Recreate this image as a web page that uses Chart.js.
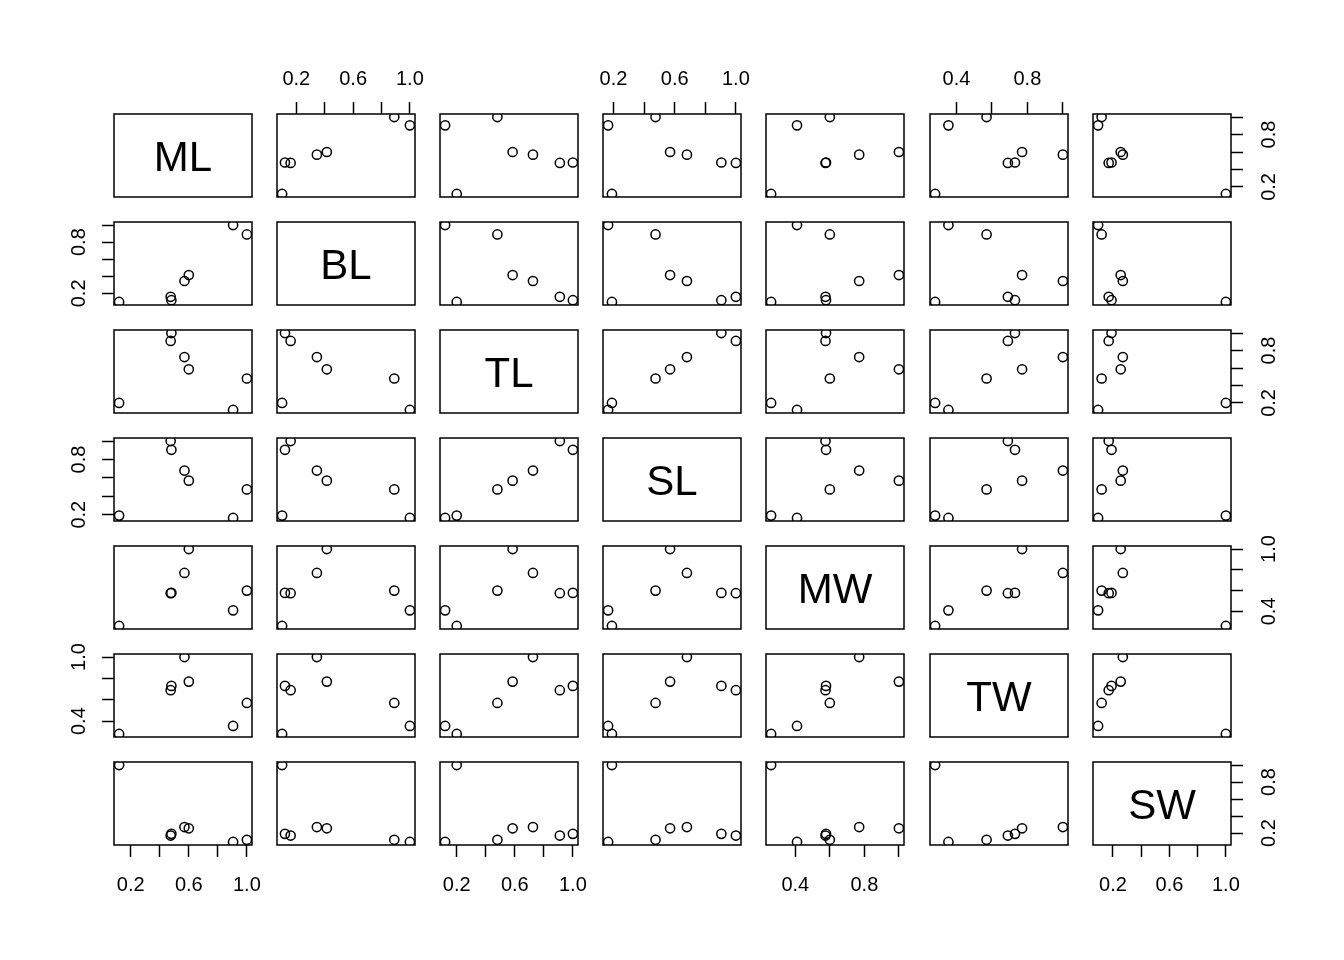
<!DOCTYPE html>
<html><head><meta charset="utf-8">
<script src="https://cdn.jsdelivr.net/npm/chart.js@4.4.1/dist/chart.umd.min.js"></script>
<style>
html,body{margin:0;padding:0;background:#fff;width:1344px;height:960px;overflow:hidden;}
#wrap{position:relative;width:1344px;height:960px;background:#fff;}
#wrap canvas{position:absolute;}
</style></head><body><div id="wrap"></div>
<script>
// variable names (diagonal labels)
const varNames = ['ML', 'BL', 'TL', 'SL', 'MW', 'TW', 'SW'];
const ML = [0.12, 0.475, 0.48, 0.57, 0.60, 0.905, 1.0];
const BL = [0.10, 0.16, 0.12, 0.345, 0.415, 1.0, 0.89];
const TL = [0.20, 0.91, 1.0, 0.725, 0.585, 0.12, 0.48];
const SL = [0.19, 1.0, 0.905, 0.68, 0.57, 0.165, 0.475];
const MW = [0.26, 0.575, 0.578, 0.77, 1.0, 0.41, 0.60];
const TW = [0.28, 0.69, 0.73, 1.0, 0.77, 0.355, 0.57];
const SW = [1.0, 0.17, 0.19, 0.27, 0.255, 0.095, 0.12];
// tick values and which labels are printed
const ticks02 = [0.2, 0.4, 0.6, 0.8, 1.0];
const ticks04 = [0.4, 0.6, 0.8, 1.0];
const labelsH02 = ['0.2', '0.6', '1.0'];
const labelsV02 = ['0.2', '0.8'];
const labelsH04 = ['0.4', '0.8'];
const labelsV04 = ['0.4', '1.0'];

const series = [ML, BL, TL, SL, MW, TW, SW];
const seriesTicks = [ticks02, ticks02, ticks02, ticks02, ticks04, ticks04, ticks02];
const seriesLabelsH = [labelsH02, labelsH02, labelsH02, labelsH02, labelsH04, labelsH04, labelsH02];
const seriesLabelsV = [labelsV02, labelsV02, labelsV02, labelsV02, labelsV04, labelsV04, labelsV02];

// layout
const N = 7, LEFT0 = 113.5, TOP0 = 114.3, PW = 138, PH = 83, STEPX = 163.2, STEPY = 108;
const M = 60, AX = 50;
const FONT = '"Liberation Sans", Arial, Helvetica, sans-serif';
const LABEL_PAD = {top: 11, bottom: 16, left: 9, right: 13};

const boxPlugin = {
  id: 'box',
  afterDraw(chart, args, opts) {
    const {ctx, chartArea: a} = chart;
    ctx.save();
    if (opts.label) {
      ctx.fillStyle = '#000';
      ctx.font = '42px ' + FONT;
      ctx.textAlign = 'center';
      ctx.textBaseline = 'alphabetic';
      ctx.fillText(opts.label, (a.left + a.right) / 2, (a.top + a.bottom) / 2 + 15);
    }
    ctx.strokeStyle = '#000';
    ctx.lineWidth = 1.5;
    ctx.strokeRect(a.left, a.top, a.right - a.left, a.bottom - a.top);
    ctx.restore();
  }
};

function axisCfg(vi, pos, horizontal) {
  const vals = series[vi];
  const lo = Math.min(...vals), hi = Math.max(...vals), pad = 0.04 * (hi - lo);
  const shown = horizontal ? seriesLabelsH[vi] : seriesLabelsV[vi];
  return {
    type: 'linear', min: lo - pad, max: hi + pad,
    display: !!pos,
    position: pos || (horizontal ? 'bottom' : 'left'),
    afterBuildTicks: s => { s.ticks = seriesTicks[vi].map(v => ({value: v})); },
    afterFit: s => {
      if (!pos) { s.width = 0; s.height = 0; return; }
      if (horizontal) s.height = AX; else s.width = AX;
    },
    grid: {drawOnChartArea: false, drawTicks: true, tickLength: 12, tickWidth: 1.5, tickColor: '#000', color: '#000'},
    border: {display: false},
    ticks: {
      autoSkip: false, padding: pos ? LABEL_PAD[pos] : 10, color: '#000',
      font: {family: FONT, size: 20},
      minRotation: horizontal ? 0 : 90, maxRotation: horizontal ? 0 : 90,
      crossAlign: horizontal ? 'near' : 'center',
      callback: v => { const t = Number(v).toFixed(1); return shown.includes(t) ? t : ''; }
    }
  };
}

const wrap = document.getElementById('wrap');
for (let r = 0; r < N; r++) {
  for (let c = 0; c < N; c++) {
    const left = Math.round(LEFT0 + c * STEPX), top = Math.round(TOP0 + r * STEPY);
    const cv = document.createElement('canvas');
    cv.width = PW + 2 * M; cv.height = PH + 2 * M;
    cv.style.left = (left - M) + 'px'; cv.style.top = (top - M) + 'px';
    cv.style.width = cv.width + 'px'; cv.style.height = cv.height + 'px';
    wrap.appendChild(cv);
    let xPos = null, yPos = null;
    if (r === 0 && c % 2 === 1) xPos = 'top';
    if (r === N - 1 && c % 2 === 0) xPos = 'bottom';
    if (c === 0 && r % 2 === 1) yPos = 'left';
    if (c === N - 1 && r % 2 === 0) yPos = 'right';
    const datasets = (r === c) ? [] : [{
      data: series[c].map((v, k) => ({x: v, y: series[r][k]})),
      pointRadius: 4.6, pointHoverRadius: 4.6, pointBorderWidth: 1.5,
      borderColor: '#000', backgroundColor: 'rgba(0,0,0,0)', pointBackgroundColor: 'rgba(0,0,0,0)',
      showLine: false, clip: 0
    }];
    new Chart(cv, {
      type: 'scatter',
      data: {datasets},
      options: {
        responsive: false, animation: false, events: [],
        devicePixelRatio: 1,
        plugins: {legend: {display: false}, tooltip: {enabled: false}, box: {label: r === c ? varNames[r] : ''}},
        layout: {padding: {
          left: yPos === 'left' ? M - AX : M,
          right: yPos === 'right' ? M - AX : M,
          top: xPos === 'top' ? M - AX : M,
          bottom: xPos === 'bottom' ? M - AX : M
        }},
        scales: {
          x: axisCfg(c, xPos, true),
          y: axisCfg(r, yPos, false)
        }
      },
      plugins: [boxPlugin]
    });
  }
}
</script></body></html>
